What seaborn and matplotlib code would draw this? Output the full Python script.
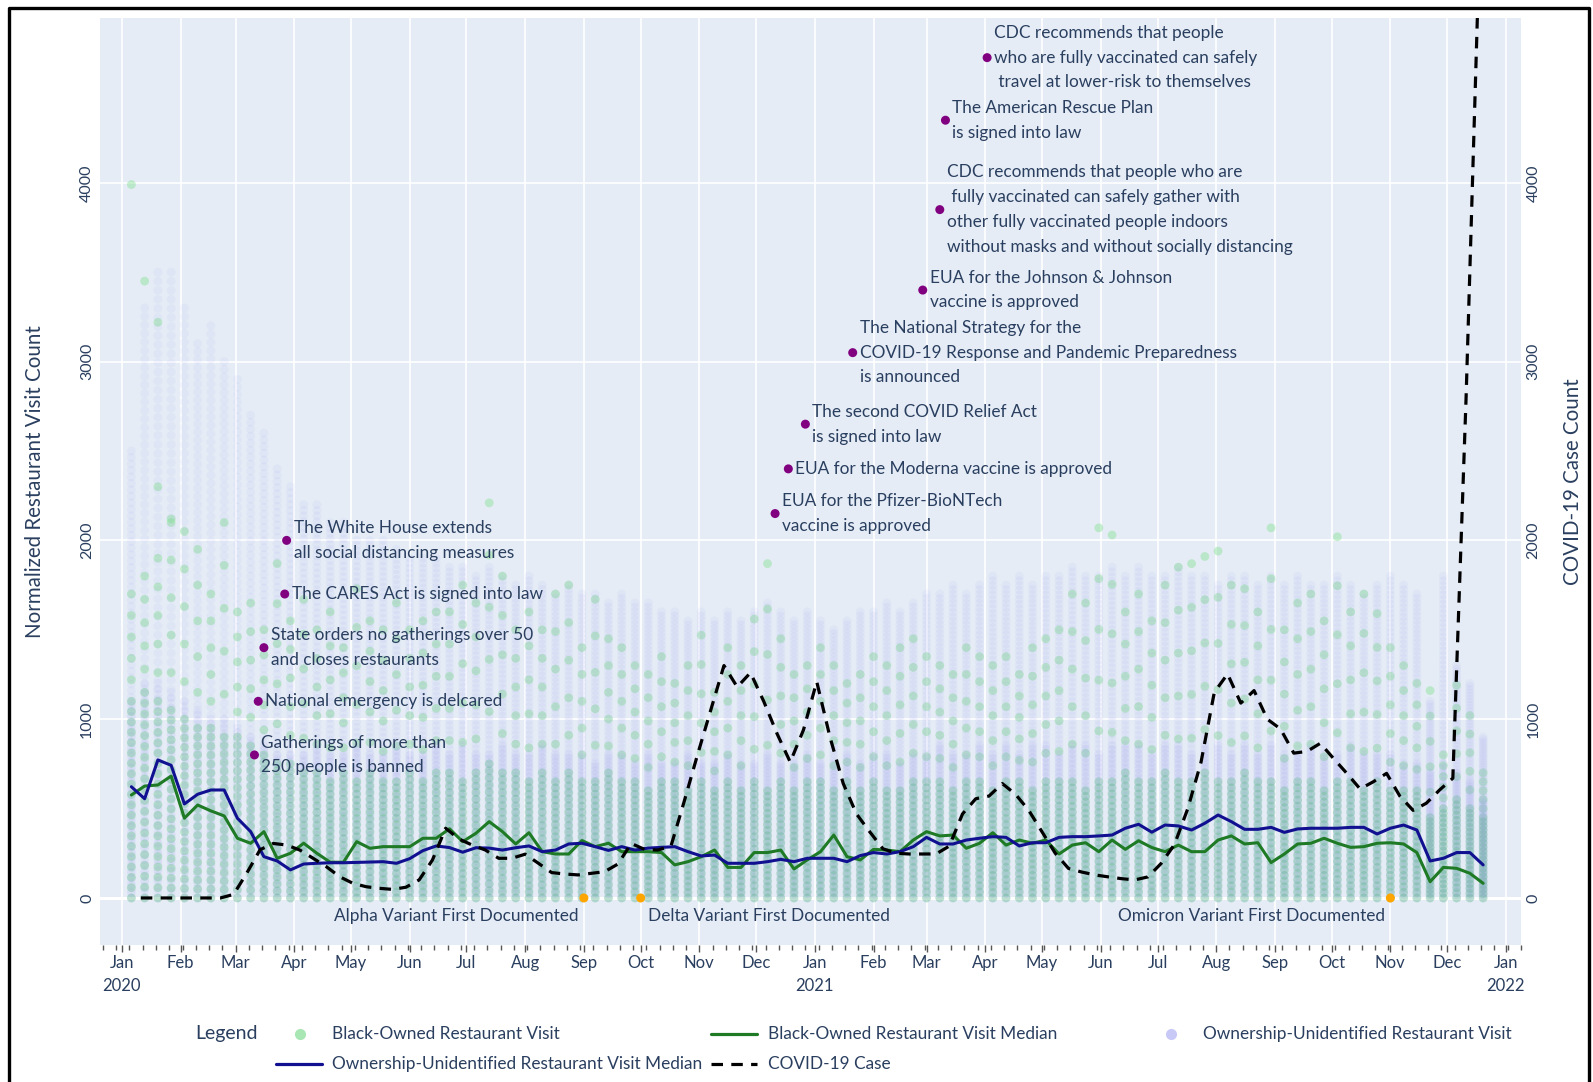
import numpy as np
import pandas as pd
import matplotlib
matplotlib.use("Agg")
import matplotlib.pyplot as plt
import matplotlib.dates as mdates
from matplotlib.lines import Line2D
import seaborn as sns

# ---- data ----
weeks = pd.date_range("2020-01-06", "2021-12-20", freq="7D")        # 103 weekly visit points
case_weeks = pd.date_range("2020-01-11", "2021-12-18", freq="7D")   # 102 weekly case points

black_median = [
    576, 626, 632, 682, 446, 520, 487, 459, 334, 306,
    371, 222, 250, 306, 250, 200, 200, 315, 278, 287,
    287, 287, 334, 334, 387, 315, 362, 427, 371, 302,
    365, 259, 246, 246, 321, 287, 306, 259, 259, 259,
    254, 185, 203, 231, 268, 171, 171, 254, 254, 268,
    162, 213, 259, 352, 231, 213, 272, 268, 259, 324,
    371, 347, 352, 278, 306, 365, 296, 324, 306, 324,
    246, 296, 309, 259, 324, 272, 320, 282, 259, 296,
    259, 259, 324, 347, 302, 309, 198, 246, 302, 306,
    334, 306, 283, 287, 306, 309, 302, 254, 91, 171,
    166, 138, 82]

unident_median = [
    622, 555, 772, 742, 526, 580, 604, 604, 446, 371,
    231, 207, 157, 190, 194, 197, 197, 199, 201, 203,
    194, 220, 265, 291, 282, 256, 281, 279, 268, 281,
    291, 259, 268, 302, 306, 287, 266, 287, 268, 279,
    283, 287, 259, 235, 240, 194, 194, 194, 203, 216,
    203, 222, 222, 222, 203, 237, 254, 246, 259, 287,
    339, 302, 302, 324, 334, 343, 339, 291, 309, 309,
    339, 343, 343, 347, 352, 390, 412, 368, 408, 403,
    380, 418, 464, 427, 384, 384, 395, 367, 386, 390,
    390, 390, 395, 395, 358, 390, 408, 380, 207, 222,
    254, 254, 185]

covid_cases = [
    0, 0, 0, 0, 0, 0, 0, 20, 140, 270,
    305, 296, 268, 222, 175, 119, 82, 63, 54, 48,
    60, 101, 212, 390, 330, 296, 268, 222, 222, 245,
    194, 142, 134, 129, 138, 147, 190, 305, 272, 268,
    290, 540, 800, 1050, 1300, 1180, 1260, 1100, 920, 760,
    940, 1210, 900, 640, 470, 370, 275, 250, 246, 246,
    246, 290, 470, 555, 570, 640, 580, 490, 370, 250,
    165, 145, 129, 118, 108, 101, 118, 194, 300, 500,
    760, 1150, 1253, 1090, 1160, 1000, 945, 810, 820, 865,
    780, 697, 610, 650, 697, 570, 490, 530, 604, 670,
    2800, 5300]

# extent of each weekly column of visits
green_core = [
    1100, 1150, 1100, 1050, 1000, 950, 950, 900, 900, 850,
    800, 750, 750, 700, 700, 650, 700, 650, 700, 650,
    650, 700, 650, 700, 700, 650, 700, 750, 700, 700,
    650, 700, 650, 700, 650, 650, 700, 650, 650, 600,
    650, 650, 600, 650, 600, 650, 600, 650, 600, 650,
    600, 650, 650, 600, 650, 600, 650, 600, 600, 650,
    650, 650, 600, 650, 650, 600, 650, 650, 600, 650,
    650, 650, 600, 650, 650, 700, 650, 650, 700, 650,
    650, 700, 650, 650, 700, 650, 650, 600, 650, 650,
    600, 650, 650, 600, 650, 600, 600, 600, 450, 500,
    550, 500, 450]
green_top = [
    1700, 1800, 1900, 2100, 2050, 1950, 1700, 2100, 1600, 1650,
    1500, 1870, 1550, 1670, 1500, 1600, 1400, 1730, 1550, 1500,
    1650, 1500, 1550, 1600, 1600, 1750, 1650, 2210, 1800, 1500,
    1600, 1500, 1700, 1750, 1400, 1670, 1450, 1400, 1300, 1250,
    1350, 1200, 1300, 1470, 1150, 1400, 1300, 1560, 1870, 1450,
    1250, 1300, 1400, 1300, 1200, 1250, 1350, 1300, 1400, 1450,
    1350, 1300, 1250, 1400, 1350, 1300, 1350, 1250, 1400, 1450,
    1500, 1700, 1650, 2070, 2030, 1600, 1700, 1550, 1750, 1850,
    1870, 1910, 1940, 1750, 1730, 1600, 2070, 1500, 1650, 1700,
    1550, 2020, 1600, 1700, 1590, 1400, 1300, 1200, 1160, 800,
    1190, 1020, 700]
lav_core = [
    1100, 1200, 1200, 1150, 1100, 1050, 1000, 1000, 950, 900,
    850, 800, 800, 800, 850, 800, 800, 850, 800, 800,
    850, 800, 800, 850, 800, 850, 800, 800, 850, 800,
    800, 850, 800, 800, 800, 750, 800, 800, 750, 800,
    750, 750, 800, 750, 750, 800, 750, 750, 800, 750,
    750, 800, 750, 750, 800, 750, 800, 800, 750, 800,
    800, 850, 800, 800, 850, 800, 850, 800, 850, 850,
    800, 850, 850, 800, 850, 850, 850, 800, 850, 850,
    800, 850, 850, 800, 850, 800, 850, 800, 800, 850,
    800, 800, 850, 800, 800, 800, 750, 750, 700, 750,
    700, 650, 550]
lav_top = [
    2500, 3300, 3500, 3500, 3300, 3100, 3200, 3000, 2900, 2700,
    2600, 2400, 2300, 2200, 2200, 2100, 2100, 2000, 2000, 2000,
    1950, 1900, 1900, 1900, 1850, 1850, 1800, 1850, 1800, 1750,
    1800, 1750, 1700, 1750, 1700, 1700, 1650, 1700, 1650, 1650,
    1600, 1600, 1550, 1600, 1550, 1600, 1550, 1600, 1650, 1600,
    1550, 1600, 1550, 1500, 1550, 1600, 1600, 1650, 1600, 1650,
    1700, 1700, 1750, 1700, 1750, 1800, 1750, 1800, 1750, 1800,
    1800, 1850, 1800, 1800, 1850, 1800, 1850, 1800, 1800, 1850,
    1800, 1800, 1750, 1800, 1800, 1750, 1800, 1750, 1800, 1750,
    1750, 1800, 1750, 1700, 1750, 1800, 1750, 1700, 1100, 1800,
    1300, 1200, 900]
outlier_weeks = [0, 1, 2, 2, 3]
outlier_vals = [3990, 3450, 3220, 2300, 2120]

event_dates = ["2020-03-11", "2020-03-13", "2020-03-16", "2020-03-27", "2020-03-28",
               "2020-12-11", "2020-12-18", "2020-12-27", "2021-01-21", "2021-02-27",
               "2021-03-08", "2021-03-11", "2021-04-02"]
event_y = [800, 1100, 1400, 1700, 2000, 2150, 2400, 2650, 3050, 3400, 3850, 4350, 4700]
event_text = [
    "Gatherings of more than\n250 people is banned",
    "National emergency is delcared",
    "State orders no gatherings over 50\nand closes restaurants",
    "The CARES Act is signed into law",
    "The White House extends\nall social distancing measures",
    "EUA for the Pfizer-BioNTech\nvaccine is approved",
    "EUA for the Moderna vaccine is approved",
    "The second COVID Relief Act\nis signed into law",
    "The National Strategy for the\nCOVID-19 Response and Pandemic Preparedness\nis announced",
    "EUA for the Johnson & Johnson\nvaccine is approved",
    "CDC recommends that people who are\n fully vaccinated can safely gather with\nother fully vaccinated people indoors\nwithout masks and without socially distancing",
    "The American Rescue Plan\nis signed into law",
    "CDC recommends that people\nwho are fully vaccinated can safely\n travel at lower-risk to themselves",
]
variant_dates = ["2020-09-01", "2020-10-01", "2021-11-01"]
variant_text = ["Alpha Variant First Documented", "Delta Variant First Documented",
                "Omicron Variant First Documented"]
variant_side = ["left", "right", "left"]

# ---- style ----
sns.set_theme(style="darkgrid", rc={"axes.facecolor": "#E5ECF6", "grid.color": "white",
                                    "grid.linewidth": 1.2, "axes.edgecolor": "white"})
plt.rcParams["font.family"] = ["Lato", "DejaVu Sans"]
TXT = "#2a3f5f"
W, H = 1593, 1082
FS = 12.4

fig = plt.figure(figsize=(W / 100, H / 100), dpi=100)
ax = fig.add_axes([99.6 / W, 1 - 945 / H, (1521 - 99.6) / W, (945 - 18.3) / H])
ax.set_axisbelow(True)

# weekly columns of individual visits
lav_rows, g_core_rows, g_sparse_rows = [], [], []
for d, core, top in zip(weeks, lav_core, lav_top):
    lav_rows += [(d, v) for v in np.linspace(0, core, 40)]
    lav_rows += [(d, v) for v in np.linspace(0, top, 70)]
for d, core, top in zip(weeks, green_core, green_top):
    g_core_rows += [(d, v) for v in np.linspace(0, core, 20)]
    g_sparse_rows += [(d, v) for v in np.linspace(core, top, 6)[1:]]
for w, v in zip(outlier_weeks, outlier_vals):
    g_sparse_rows.append((weeks[w], v))

lav_df = pd.DataFrame(lav_rows, columns=["date", "count"])
gc_df = pd.DataFrame(g_core_rows, columns=["date", "count"])
gs_df = pd.DataFrame(g_sparse_rows, columns=["date", "count"])

sns.scatterplot(data=gc_df, x="date", y="count", ax=ax, s=40, color="#45c95c",
                alpha=0.3, edgecolor="none", legend=False, zorder=2)
sns.scatterplot(data=gs_df, x="date", y="count", ax=ax, s=40, color="#7fe08c",
                alpha=0.42, edgecolor="none", legend=False, zorder=2)
sns.scatterplot(data=lav_df, x="date", y="count", ax=ax, s=40, color="#8f92f0",
                alpha=0.075, edgecolor="none", legend=False, zorder=2)

sns.lineplot(x=weeks, y=black_median, ax=ax, color="#1f7a25", linewidth=2.2, zorder=4)
sns.lineplot(x=weeks, y=unident_median, ax=ax, color="#101090", linewidth=2.2, zorder=4)

ax.axhline(0, color="white", linewidth=2.2, zorder=1)

# event markers
ev_dates = pd.to_datetime(event_dates)
sns.scatterplot(x=ev_dates, y=event_y, ax=ax, s=42, color="purple", edgecolor="none",
                legend=False, zorder=6)
for d, y, t in zip(ev_dates, event_y, event_text):
    ax.annotate(t, (d, y), xytext=(5, 0), textcoords="offset points", ha="left",
                va="center", fontsize=FS, color=TXT, linespacing=1.68, zorder=7)

var_dates = pd.to_datetime(variant_dates)
sns.scatterplot(x=var_dates, y=[0] * 3, ax=ax, s=42, color="orange", edgecolor="none",
                legend=False, zorder=6)
for d, t, side in zip(var_dates, variant_text, variant_side):
    dx = -4 if side == "left" else 5
    ax.annotate(t, (d, 0), xytext=(dx, -13), textcoords="offset points",
                ha="right" if side == "left" else "left", va="center",
                fontsize=FS, color=TXT, zorder=7)

# axes
ylim = (-263, 4920)
ax.set_ylim(*ylim)
ax.set_xlim(pd.Timestamp("2019-12-20 05:00"), pd.Timestamp("2022-01-09"))
ax.set_yticks([0, 1000, 2000, 3000, 4000])
ax.set_yticklabels(["0", "1000", "2000", "3000", "4000"], rotation=90, va="center")
ax.xaxis.set_major_locator(mdates.MonthLocator())
ax.xaxis.set_minor_locator(mdates.WeekdayLocator(byweekday=mdates.SU))
labels = []
for t in mdates.num2date(ax.get_xticks()):
    labels.append(t.strftime("%b\n%Y") if t.month == 1 else t.strftime("%b"))
ax.set_xticks(ax.get_xticks())
ax.set_xticklabels(labels)
ax.grid(which="minor", visible=False)
ax.tick_params(axis="x", which="both", bottom=True, direction="out", color="#555",
               width=1, labelsize=12, labelcolor=TXT)
ax.tick_params(axis="x", which="major", length=5, pad=2)
ax.tick_params(axis="x", which="minor", length=3.5)
ax.tick_params(axis="y", length=0, pad=4, labelsize=11.5, labelcolor=TXT)
for lab in ax.get_xticklabels():
    lab.set_linespacing(1.55)
ax.set_xlabel("")
ax.set_ylabel("Normalized Restaurant Visit Count", fontsize=14.8, color=TXT, labelpad=25)
for s in ax.spines.values():
    s.set_visible(False)

ax2 = ax.twinx()
sns.lineplot(x=case_weeks, y=covid_cases, ax=ax2, color="black", linewidth=2.3,
             linestyle=(0, (3.6, 2.6)), zorder=8)
ax2.set_ylim(*ylim)
ax2.set_yticks([0, 1000, 2000, 3000, 4000])
ax2.set_yticklabels(["0", "1000", "2000", "3000", "4000"], rotation=90, va="center")
ax2.grid(False)
ax2.tick_params(axis="y", length=0, pad=4, labelsize=11.5, labelcolor=TXT)
ax2.set_ylabel("COVID-19 Case Count", fontsize=14.8, color=TXT, labelpad=16, rotation=90)
for s in ax2.spines.values():
    s.set_visible(False)

# legend drawn in figure pixels
def fx(x):
    return x / W

def fy(y):
    return 1 - y / H

fig.text(fx(195), fy(1033), "Legend", fontsize=14, color=TXT, va="center", ha="left")
leg_items = [
    ("dot", "#a8e6b3", 300, 1034, "Black-Owned Restaurant Visit", 332),
    ("line", "#1f7a25", 711, 1034, "Black-Owned Restaurant Visit Median", 768),
    ("dot", "#c8c9f7", 1171, 1034, "Ownership-Unidentified Restaurant Visit", 1203),
    ("line", "#101090", 276, 1064, "Ownership-Unidentified Restaurant Visit Median", 332),
    ("dash", "black", 711, 1064, "COVID-19 Case", 768),
]
for kind, col, x, y, text, tx in leg_items:
    if kind == "dot":
        fig.add_artist(Line2D([fx(x)], [fy(y)], marker="o", markersize=7, color=col,
                              linestyle="none"))
    else:
        ls = "-" if kind == "line" else (0, (3.6, 2.6))
        fig.add_artist(Line2D([fx(x), fx(x + 46)], [fy(y), fy(y)], color=col,
                              linewidth=2.3, linestyle=ls))
    fig.text(fx(tx), fy(y), text, fontsize=FS, color=TXT, va="center", ha="left")

# outer black frame
fig.add_artist(Line2D([fx(9), fx(9), fx(1589), fx(1589)], [0, fy(8), fy(8), 0],
                      color="black", linewidth=2.4))

fig.savefig("out.png", dpi=100, facecolor="white")
